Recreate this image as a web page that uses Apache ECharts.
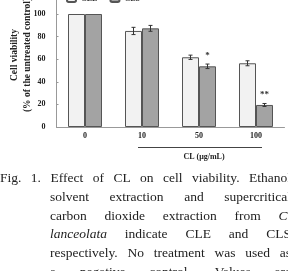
<!DOCTYPE html>
<html><head><meta charset="utf-8">
<script src="https://cdn.jsdelivr.net/npm/echarts@6/dist/echarts.min.js"></script>
<style>html,body{margin:0;padding:0;background:#fff}#c{width:288px;height:271px}</style>
</head><body><div id="c"></div>
<script>
// ---- data ----
const categories = ['0', '10', '50', '100'];
const seriesNames = ['CLE', 'CLS'];
const cleValues = [100, 85, 61.7, 56.4];
const clsValues = [100, 87.3, 53.7, 19.5];
const cleErrors = [0, 3.2, 1.9, 2.2];
const clsErrors = [0, 2.6, 2.0, 1.3];
const clsSignif = ['', '', '*', '**'];
const yTicks = [0, 20, 40, 60, 80, 100, 120];
const yTitleLines = ['Cell viability', '(% of the untreated control)'];
const xTitle = 'CL (\u03bcg/mL)';
const captionLines = [
  [['Fig.'], ['1.'], ['Effect'], ['of'], ['CL'], ['on'], ['cell'], ['viability.'], ['Ethanol']],
  [['solvent'], ['extraction'], ['and'], ['supercritical']],
  [['carbon'], ['dioxide'], ['extraction'], ['from'], ['C.', 'i']],
  [['lanceolata', 'i'], ['indicate'], ['CLE'], ['and'], ['CLS']],
  [['respectively.'], ['No'], ['treatment'], ['was'], ['used'], ['as']],
  [['a'], ['negative'], ['control.'], ['Values'], ['are']]
];

// ---- layout ----
const BAR_W = 17;
const FONT = '"Liberation Serif", "Times New Roman", serif';
const chart = echarts.init(document.getElementById('c'));

const cv = document.createElement('canvas').getContext('2d');
const capSize = 13.5;
function fontStr(it) { return (it ? 'italic ' : '') + capSize + 'px ' + FONT; }
const graphics = [];
captionLines.forEach(function (line, li) {
  const x0 = li === 0 ? 0 : 50, x1 = 291;
  const widths = line.map(function (w) { cv.font = fontStr(w[1] === 'i'); return cv.measureText(w[0]).width; });
  const total = widths.reduce(function (a, b) { return a + b; }, 0);
  const gap = (x1 - x0 - total) / (line.length - 1);
  let x = x0;
  const y = 178.5 + li * 18.8;
  line.forEach(function (w, i) {
    graphics.push({ type: 'text', silent: true, style: {
      text: w[0], x: x, y: y, font: fontStr(w[1] === 'i'), fill: '#222',
      textAlign: 'left', textVerticalAlign: 'middle', align: 'left', verticalAlign: 'middle' } });
    x += widths[i] + gap;
  });
});
// y-axis title
graphics.push({ type: 'text', silent: true, x: 21, y: 55, rotation: Math.PI / 2, style: {
  text: yTitleLines.join('\n'), font: 'bold 9.5px ' + FONT, fill: '#222', lineHeight: 13.2,
  textAlign: 'center', textVerticalAlign: 'middle', align: 'center', verticalAlign: 'middle' } });
// x-axis title with rule line
graphics.push({ type: 'line', silent: true, shape: { x1: 138, y1: 147.5, x2: 262, y2: 147.5 }, style: { stroke: '#444', lineWidth: 1 } });
graphics.push({ type: 'text', silent: true, style: {
  text: xTitle, x: 204, y: 157, font: 'bold 8px ' + FONT, fill: '#222',
  textAlign: 'center', textVerticalAlign: 'middle', align: 'center', verticalAlign: 'middle' } });

function errorSeries(values, errors, offset, signif) {
  return {
    type: 'custom', z: 5,
    data: values.map(function (v, i) { return [i, v, errors[i]]; }),
    renderItem: function (params, api) {
      const i = api.value(0), v = api.value(1), e = api.value(2);
      const s = signif ? signif[i] : '';
      const hi = api.coord([i, v + e]), lo = api.coord([i, v - e]);
      const x = hi[0] + offset;
      const children = [];
      if (e > 0) {
        children.push({ type: 'line', shape: { x1: x, y1: hi[1], x2: x, y2: lo[1] }, style: { stroke: '#333', lineWidth: 1 } });
        children.push({ type: 'line', shape: { x1: x - 2, y1: hi[1], x2: x + 2, y2: hi[1] }, style: { stroke: '#333', lineWidth: 1 } });
        children.push({ type: 'line', shape: { x1: x - 2, y1: lo[1], x2: x + 2, y2: lo[1] }, style: { stroke: '#333', lineWidth: 1 } });
      }
      if (s) {
        children.push({ type: 'text', style: { text: s, x: x, y: hi[1] - 4, font: 'bold 9px ' + FONT, fill: '#333',
          textAlign: 'center', textVerticalAlign: 'bottom', align: 'center', verticalAlign: 'bottom' } });
      }
      return { type: 'group', children: children };
    }
  };
}

chart.setOption({
  backgroundColor: '#fff',
  animation: false,
  legend: {
    data: seriesNames, top: -6, left: 66, padding: 0, itemWidth: 9, itemHeight: 7, itemGap: 12,
    textStyle: { fontFamily: FONT, fontWeight: 'bold', fontSize: 8, color: '#333' }
  },
  grid: { left: 56.5, right: 3.5, top: -8.6, bottom: 144, containLabel: false, outerBoundsMode: 'none' },
  xAxis: {
    type: 'category', data: categories,
    axisLine: { lineStyle: { color: '#999', width: 1 } },
    axisTick: { inside: true, length: 3, lineStyle: { color: '#999' } },
    axisLabel: { margin: 5, fontFamily: FONT, fontWeight: 'bold', fontSize: 8, color: '#222' }
  },
  yAxis: {
    type: 'value', min: yTicks[0], max: yTicks[yTicks.length - 1], interval: 20,
    splitLine: { show: false },
    axisLine: { show: true, lineStyle: { color: '#999', width: 1 } },
    axisTick: { show: true, inside: true, length: 2, lineStyle: { color: '#999' } },
    axisLabel: { margin: 11, fontFamily: FONT, fontWeight: 'bold', fontSize: 8, color: '#222' }
  },
  graphic: graphics,
  series: [
    { name: 'CLE', type: 'bar', data: cleValues, barWidth: BAR_W, barGap: '0%',
      itemStyle: { color: '#f2f2f2', borderColor: '#555', borderWidth: 1 } },
    { name: 'CLS', type: 'bar', data: clsValues, barWidth: BAR_W, barGap: '0%',
      itemStyle: { color: '#a3a3a3', borderColor: '#555', borderWidth: 1 } },
    errorSeries(cleValues, cleErrors, -BAR_W / 2, null),
    errorSeries(clsValues, clsErrors, BAR_W / 2, clsSignif)
  ]
});
</script></body></html>
